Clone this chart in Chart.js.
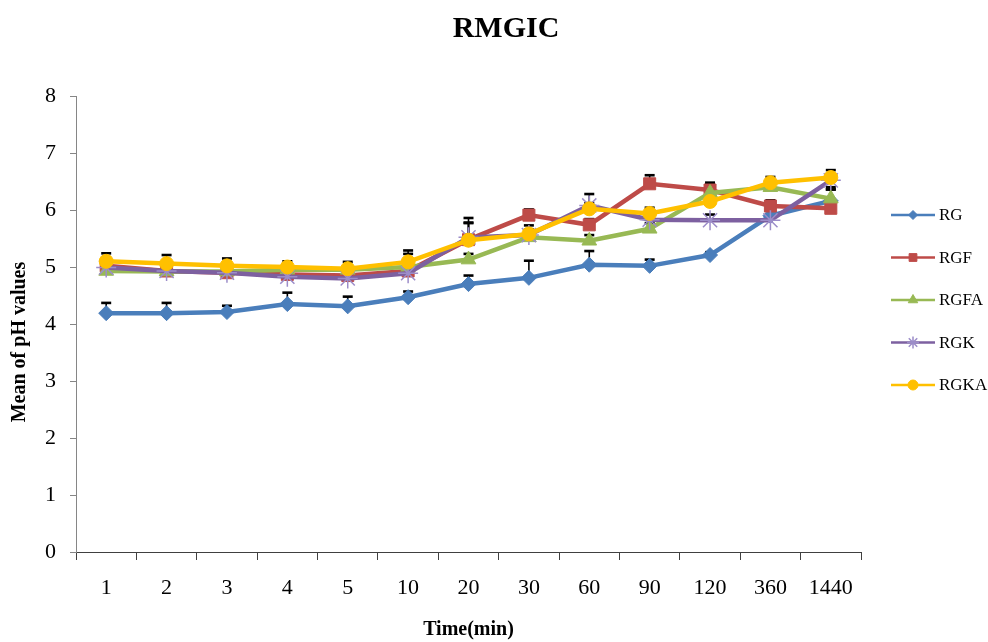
<!DOCTYPE html>
<html>
<head>
<meta charset="utf-8">
<title>RMGIC</title>
<script src="https://cdn.jsdelivr.net/npm/chart.js@4.4.0/dist/chart.umd.min.js"></script>
<style>
  html, body { margin: 0; padding: 0; background: #fff; }
  #wrap { width: 988px; height: 642px; }
</style>
</head>
<body>
<div id="wrap"><canvas id="phChart" width="988" height="642"></canvas></div>
<script>
// time points (min) and mean pH per group
const timeLabels = ['1', '2', '3', '4', '5', '10', '20', '30', '60', '90', '120', '360', '1440'];

const rg   = [4.19, 4.19, 4.21, 4.35, 4.31, 4.47, 4.70, 4.81, 5.04, 5.02, 5.21, 5.90, 6.16];
const rgf  = [5.02, 4.93, 4.90, 4.87, 4.85, 4.93, 5.48, 5.91, 5.74, 6.46, 6.35, 6.07, 6.03];
const rgfa = [4.93, 4.92, 4.92, 4.95, 4.95, 5.00, 5.13, 5.52, 5.46, 5.67, 6.30, 6.40, 6.20];
const rgk  = [4.99, 4.93, 4.90, 4.83, 4.80, 4.89, 5.52, 5.56, 6.08, 5.83, 5.82, 5.82, 6.52];
const rgka = [5.10, 5.06, 5.02, 5.00, 4.97, 5.09, 5.47, 5.58, 6.02, 5.94, 6.15, 6.48, 6.57];

// upper error (SD) per point
const rgErr   = [0.18, 0.18, 0.11, 0.20, 0.17, 0.10, 0.15, 0.30, 0.24, 0.11, 0.05, 0.10, 0.20];
const rgfErr  = [0.10, 0.10, 0.10, 0.10, 0.10, 0.30, 0.30, 0.10, 0.10, 0.15, 0.13, 0.10, 0.33];
const rgfaErr = [0.05, 0.05, 0.05, 0.05, 0.05, 0.05, 0.10, 0.10, 0.10, 0.10, 0.15, 0.10, 0.20];
const rgkErr  = [0.10, 0.10, 0.10, 0.10, 0.10, 0.10, 0.34, 0.10, 0.20, 0.10, 0.10, 0.10, 0.10];
const rgkaErr = [0.14, 0.15, 0.13, 0.10, 0.12, 0.20, 0.30, 0.15, 0.10, 0.10, 0.10, 0.10, 0.13];

const SERIF = "'Liberation Serif', 'Times New Roman', serif";

function series(label, data, err, color, style, radius, legendRadius, order, markerEdge) {
  return {
    label, data, errPlus: err, order, legendRadius,
    borderColor: color, backgroundColor: color, borderWidth: 4.5, tension: 0,
    pointStyle: style, pointRadius: radius,
    pointBackgroundColor: color, pointBorderColor: markerEdge || color,
    pointBorderWidth: style === 'star' ? 1.5 : 1
  };
}

// upward error bars, drawn under the lines so markers sit on top of the stems
const errorBars = {
  id: 'errorBars',
  beforeDatasetsDraw(chart) {
    const ctx = chart.ctx, y = chart.scales.y;
    ctx.save();
    ctx.strokeStyle = '#000';
    chart.data.datasets.forEach((ds, i) => {
      chart.getDatasetMeta(i).data.forEach((pt, j) => {
        const top = y.getPixelForValue(ds.data[j] + ds.errPlus[j]);
        ctx.lineWidth = 1.6;
        ctx.beginPath(); ctx.moveTo(pt.x, pt.y); ctx.lineTo(pt.x, top); ctx.stroke();
        ctx.lineWidth = 2.6;
        ctx.beginPath(); ctx.moveTo(pt.x - 5, top); ctx.lineTo(pt.x + 5, top); ctx.stroke();
      });
    });
    ctx.restore();
  }
};

// chart title and y-axis title, placed by hand
const titles = {
  id: 'titles',
  afterDraw(chart) {
    const ctx = chart.ctx, area = chart.chartArea;
    ctx.save();
    ctx.fillStyle = '#000';
    ctx.textAlign = 'center';
    ctx.textBaseline = 'middle';
    ctx.font = 'bold 30px ' + SERIF;
    ctx.fillText('RMGIC', chart.width / 2 + 12, 29);
    ctx.translate(20, (area.top + area.bottom) / 2 + 18);
    ctx.rotate(-Math.PI / 2);
    ctx.font = 'bold 20px ' + SERIF;
    ctx.fillText('Mean of pH values', 0, 0);
    ctx.restore();
  }
};

// legend to the right of the plot: short line with the marker, then the name
const sideLegend = {
  id: 'sideLegend',
  afterDraw(chart) {
    const ctx = chart.ctx, area = chart.chartArea;
    const x0 = area.right + 30, x1 = area.right + 74;
    const midY = (area.top + area.bottom) / 2 - 24;
    const gap = 42.5;
    ctx.save();
    chart.data.datasets.forEach((ds, i) => {
      const yy = midY + (i - 2) * gap;
      ctx.strokeStyle = ds.borderColor;
      ctx.lineWidth = 2.5;
      ctx.beginPath(); ctx.moveTo(x0, yy); ctx.lineTo(x1, yy); ctx.stroke();
      ctx.fillStyle = ds.pointBackgroundColor;
      ctx.strokeStyle = ds.pointBorderColor;
      ctx.lineWidth = ds.pointBorderWidth;
      Chart.helpers.drawPoint(ctx, {
        pointStyle: ds.pointStyle, radius: ds.legendRadius,
        borderWidth: ds.pointBorderWidth, rotation: 0
      }, (x0 + x1) / 2, yy);
      ctx.fillStyle = '#000';
      ctx.font = '17px ' + SERIF;
      ctx.textAlign = 'left';
      ctx.textBaseline = 'middle';
      ctx.fillText(ds.label, x1 + 4, yy + 1);
    });
    ctx.restore();
  }
};

const ctx = document.getElementById('phChart').getContext('2d');
new Chart(ctx, {
  type: 'line',
  data: {
    labels: timeLabels,
    datasets: [
      series('RG',   rg,   rgErr,   '#4A7EBB', 'rectRot',  7.5, 4.5, 5),
      series('RGF',  rgf,  rgfErr,  '#BE4B48', 'rect',     8.5, 5.5, 4),
      series('RGFA', rgfa, rgfaErr, '#98B954', 'triangle', 8.5, 5.5, 3),
      series('RGK',  rgk,  rgkErr,  '#7D60A0', 'star',     10,  6,   2, '#9C8DC9'),
      series('RGKA', rgka, rgkaErr, '#FFC000', 'circle',   7,   5,   1)
    ]
  },
  options: {
    responsive: false,
    animation: false,
    layout: { padding: { top: 96, right: 127, bottom: 0, left: 0 } },
    plugins: {
      legend: { display: false },
      tooltip: { enabled: false },
      title: { display: false }
    },
    scales: {
      x: {
        offset: true,
        grid: { offset: true, drawOnChartArea: false, tickLength: 8, color: '#404040' },
        border: { color: '#404040', width: 1 },
        ticks: { color: '#000', font: { family: SERIF, size: 22 }, padding: 15, maxRotation: 0, autoSkip: false },
        title: {
          display: true, text: 'Time(min)', color: '#000',
          font: { family: SERIF, size: 20, weight: 'bold' },
          padding: { top: 0, bottom: 0 }
        },
        afterFit(s) { s.height = 90; }
      },
      y: {
        min: 0, max: 8,
        grid: { drawOnChartArea: false, tickLength: 6, color: '#868686' },
        border: { color: '#868686', width: 1 },
        ticks: { stepSize: 1, color: '#000', font: { family: SERIF, size: 22 }, padding: 14 },
        afterFit(s) { s.width = 76; }
      }
    }
  },
  plugins: [errorBars, titles, sideLegend]
});
</script>
</body>
</html>
